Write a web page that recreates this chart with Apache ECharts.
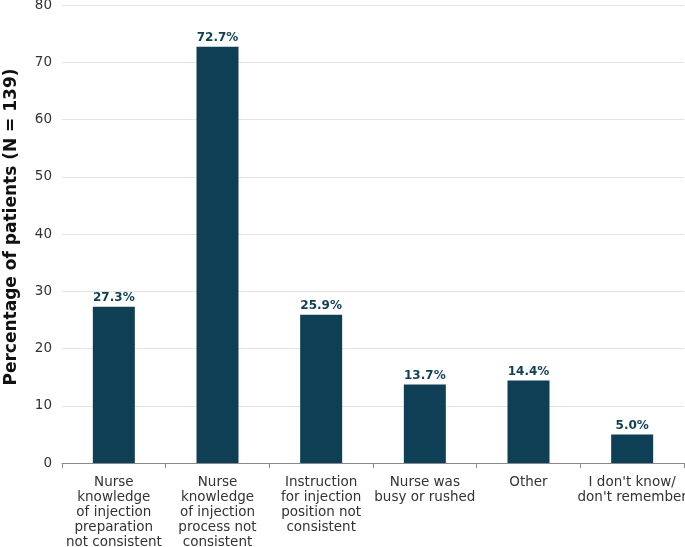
<!DOCTYPE html>
<html>
<head>
<meta charset="utf-8">
<script src="https://cdn.jsdelivr.net/npm/echarts@6/dist/echarts.min.js"></script>
<style>
html,body{margin:0;padding:0;background:#fff;}
#chart{width:685px;height:547px;}
</style>
</head>
<body>
<div id="chart"></div>
<script>
const categories = [
  "Nurse\nknowledge\nof injection\npreparation\nnot consistent",
  "Nurse\nknowledge\nof injection\nprocess not\nconsistent",
  "Instruction\nfor injection\nposition not\nconsistent",
  "Nurse was\nbusy or rushed",
  "Other",
  "I don't know/\ndon't remember"
];
const values = [27.3, 72.7, 25.9, 13.7, 14.4, 5.0];
const yTitle = "Percentage of patients (N = 139)";

const chart = echarts.init(document.getElementById('chart'));
chart.setOption({
  animation: false,
  textStyle: { fontFamily: 'DejaVu Sans' },
  grid: { left: 62, right: 1, top: 5, bottom: 84, containLabel: false, outerBoundsMode: 'none' },
  xAxis: {
    type: 'category',
    data: categories,
    axisLine: { show: true, lineStyle: { color: '#8a8a8a', width: 1 } },
    axisTick: { show: true, alignWithLabel: false, length: 5, lineStyle: { color: '#8a8a8a' } },
    axisLabel: { color: '#333', fontSize: 13.5, lineHeight: 15, margin: 12, interval: 0, fontFamily: 'DejaVu Sans' }
  },
  yAxis: {
    type: 'value',
    min: 0, max: 80, interval: 10,
    name: yTitle,
    nameLocation: 'middle',
    nameGap: 42,
    nameTextStyle: { fontSize: 17, fontWeight: 'bold', color: '#111', fontFamily: 'DejaVu Sans', padding: [0, 0, 0, 14] },
    axisLine: { show: false },
    axisTick: { show: false },
    axisLabel: { color: '#333', fontSize: 13.5, margin: 10, fontFamily: 'DejaVu Sans' },
    splitLine: { lineStyle: { color: '#e3e3e3', width: 1 } }
  },
  series: [{
    type: 'bar',
    data: values,
    barWidth: 42,
    itemStyle: { color: '#0f3f55' },
    label: {
      show: true,
      position: 'top',
      distance: 3,
      color: '#0f3f55',
      fontWeight: 'bold',
      fontSize: 12,
      fontFamily: 'DejaVu Sans',
      formatter: p => p.value.toFixed(1) + '%'
    }
  }]
});
</script>
</body>
</html>
